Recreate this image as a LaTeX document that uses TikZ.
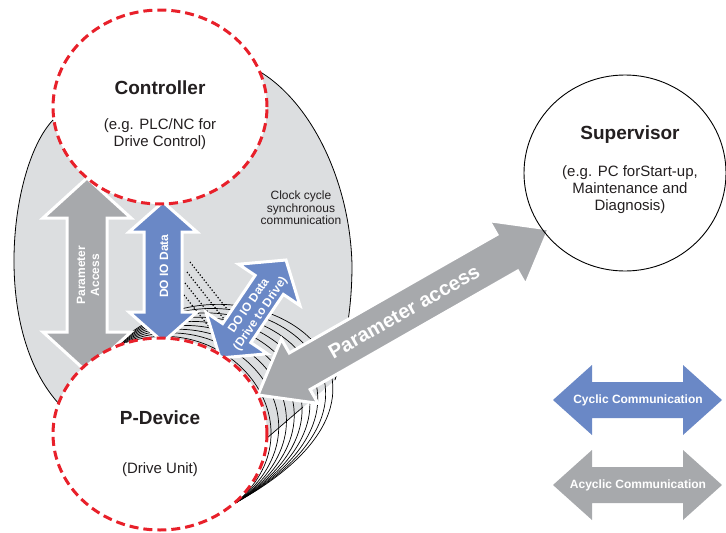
\documentclass[tikz,border=0pt]{standalone}
\usepackage{fontspec}
\setmainfont{Liberation Sans}
\usetikzlibrary{calc,shapes.geometric}
\definecolor{lobe}{HTML}{DCDEE0}
\definecolor{agray}{HTML}{A7A9AC}
\definecolor{ablue}{HTML}{6A88C6}
\definecolor{dred}{HTML}{E8202A}
\definecolor{txt}{HTML}{231F20}
% #1 tip A, #2 tip B, #3 head length, #4 head half width, #5 shaft half width, #6 style
\newcommand\dblarrow[6]{%
  \path[#6] (#1) -- ($(#1)!#3!(#2)!#4!90:(#2)$) -- ($(#1)!#3!(#2)!#5!90:(#2)$)
    -- ($(#2)!#3!(#1)!#5!-90:(#1)$) -- ($(#2)!#3!(#1)!#4!-90:(#1)$) -- (#2)
    -- ($(#2)!#3!(#1)!#4!90:(#1)$) -- ($(#2)!#3!(#1)!#5!90:(#1)$)
    -- ($(#1)!#3!(#2)!#5!-90:(#2)$) -- ($(#1)!#3!(#2)!#4!-90:(#2)$) -- cycle;}
\begin{document}
\begin{tikzpicture}[x=1pt,y=-1pt,
  title/.style={font=\fontsize{19}{22}\selectfont\bfseries, text=txt, inner sep=0pt},
  sub/.style={font=\fontsize{15}{17}\selectfont, text=txt, align=center, inner sep=0pt},
  note/.style={font=\fontsize{12}{12.5}\selectfont, text=txt, align=center, inner sep=0pt},
  arrlabel/.style={font=\fontsize{12}{14}\selectfont\bfseries, text=white, align=center, inner sep=0pt},
  biglabel/.style={font=\fontsize{20}{22}\selectfont\bfseries, text=white, inner sep=0pt},
  redcirc/.style={ellipse, draw=dred, line width=3pt, dash pattern=on 9pt off 5pt, fill=white, inner sep=0pt},
  grayarrow/.style={fill=agray, draw=white, line width=3pt, line join=miter},
  bluearrow/.style={fill=ablue, draw=white, line width=3pt, line join=miter},
  outline/.style={draw=black, line width=0.8pt},
  fanarc/.style={draw=black, line width=0.7pt},
  dots/.style={draw=black, line width=1.2pt, dash pattern=on 1.2pt off 2pt}
]
\useasboundingbox (0,0) rectangle (726,533);

% grey lobe between controller and P-device
\fill[lobe] (160,107) -- (53,120) .. controls (10,165) and (-10,330) .. (60,405) -- (160,434)
  -- (267,438) -- (335,380) .. controls (345,345) and (352,310) .. (352,265)
  .. controls (350,180) and (310,100) .. (257,70) -- cycle;
\begin{scope}
  \clip (51,624) -- (483,252) -- (483,-50) -- (-50,-50) -- (-50,624) -- cycle;
  \fill[lobe] (113,348) .. controls (230,230) and (465,375) .. (237,502) -- (160,434) -- cycle;
\end{scope}
\draw[outline] (53,120) .. controls (10,165) and (-10,330) .. (60,405);
\draw[outline] (257,70) .. controls (310,100) and (350,180) .. (352,265)
  .. controls (352,310) and (345,345) .. (335,380);

% fan of drive arcs
\foreach \s in {0.05,0.17,0.29,0.41,0.53,0.65,0.77,0.89,1.0}
  \draw[fanarc] (113,348) .. controls ({221+9*\s},{301-71*\s}) and ({320+145*\s},{425-50*\s}) .. (237,502);
\draw[fanarc] (267,438) -- (303,407);

% dotted lines
\draw[dots] (190,262) -- ++(37,47);
\draw[dots] (187,272) -- ++(37,47);
\draw[dots] (185,283) -- ++(37,47);
\draw[dots] (184,295) -- ++(37,47);

% arrows
\coordinate (paT) at (87,178);  \coordinate (paB) at (87,372);
\coordinate (doT) at (163,202); \coordinate (doB) at (163,342);
\coordinate (ddB) at (220,358); \coordinate (ddT) at (286,260);
\coordinate (pxL) at (258,395); \coordinate (pxR) at (549,229);
\coordinate (cyL) at (553,400); \coordinate (cyR) at (722,400);
\coordinate (acL) at (553,485); \coordinate (acR) at (722,485);

\dblarrow{paT}{paB}{40pt}{44pt}{20pt}{grayarrow}
\dblarrow{doT}{doB}{30pt}{34pt}{19pt}{bluearrow}
\dblarrow{ddB}{ddT}{30pt}{37pt}{17pt}{bluearrow}
\dblarrow{pxL}{pxR}{48pt}{37pt}{21pt}{grayarrow}
\dblarrow{cyL}{cyR}{39pt}{35pt}{18pt}{fill=ablue}
\dblarrow{acL}{acR}{39pt}{35pt}{18pt}{fill=agray}

\node[arrlabel, rotate=90] (paLbl) at (88,275) {Parameter\\Access};
\node[arrlabel, rotate=90] (doLbl) at (164,266) {DO IO Data};
\node[arrlabel, rotate=56] (ddLbl) at (255,310) {DO IO Data\\(Drive to Drive)};
\node[biglabel, rotate=29.6] (pxLbl) at (404,312) {Parameter access};
\node[arrlabel] (cyLbl) at (638,400) {Cyclic Communication};
\node[arrlabel] (acLbl) at (638,485) {Acyclic Communication};

% circles
\node[redcirc, minimum width=214pt, minimum height=194pt] (ctrl) at (160,107) {};
\node[redcirc, minimum width=214pt, minimum height=192pt] (pdev) at (160,434) {};
\node[ellipse, draw=black, line width=0.9pt, minimum width=202pt, minimum height=196pt, inner sep=0pt] (sup) at (625,173) {};

\node[title] (ctrlT) at (160,88) {Controller};
\node[sub] (ctrlS) at (160,134.5) {(e.g. PLC/NC for\\Drive Control)};
\node[title] (pdevT) at (160,418) {P-Device};
\node[sub] (pdevS) at (160,470) {(Drive Unit)};
\node[title] (supT) at (630,135) {Supervisor};
\node[sub] (supS) at (630,190) {(e.g. PC forStart-up,\\Maintenance and\\Diagnosis)};
\node[note] (clock) at (301,208) {Clock cycle\\synchronous\\communication};
\end{tikzpicture}
\end{document}
